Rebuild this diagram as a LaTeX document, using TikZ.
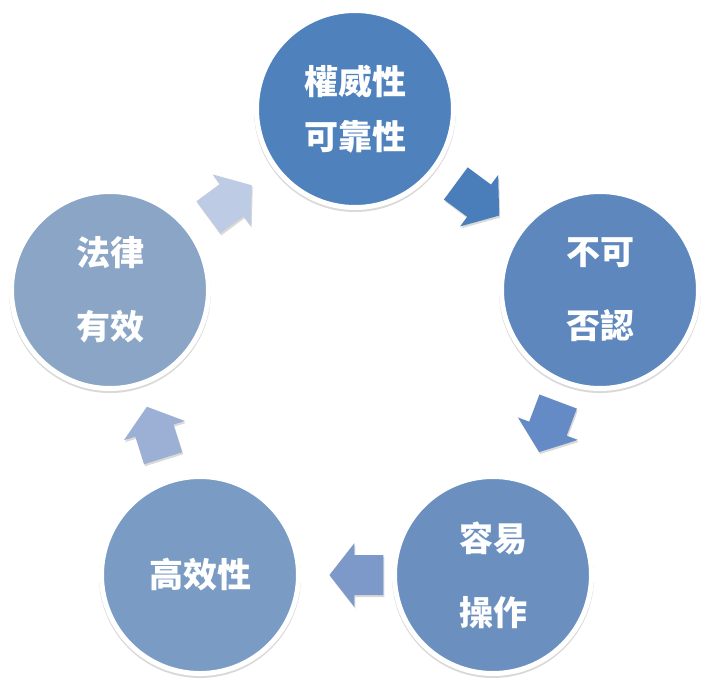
\documentclass[tikz,border=0pt]{standalone}
\usepackage{fontspec}
\newfontfamily\cjk{Noto Sans CJK TC}
\usetikzlibrary{calc,shadows}
\definecolor{c1}{RGB}{79,129,189}
\definecolor{c2}{RGB}{94,135,190}
\definecolor{c3}{RGB}{107,144,191}
\definecolor{c4}{RGB}{122,155,196}
\definecolor{c5}{RGB}{138,165,198}
\definecolor{a1}{RGB}{74,126,187}
\definecolor{a2}{RGB}{101,139,198}
\definecolor{a3}{RGB}{124,153,201}
\definecolor{a4}{RGB}{156,176,213}
\definecolor{a5}{RGB}{190,203,228}
\tikzset{
  bubble/.style={circle, minimum size=197pt, inner sep=0pt, draw=white, line width=5pt,
    text=white, font=\cjk\bfseries\fontsize{34}{55}\selectfont, align=center,
    drop shadow={shadow xshift=0pt, shadow yshift=-2pt, shadow scale=1.025, opacity=0.15, fill=black}},
  blockarrow/.pic={\fill[pic actions, drop shadow={shadow xshift=1pt, shadow yshift=-2pt, opacity=0.15, fill=black}]
    (27,0) -- (2,32) -- (2,20) -- (-27,20) -- (-27,-20) -- (2,-20) -- (2,-32) -- cycle;},
}
\begin{document}
\begin{tikzpicture}[x=1pt,y=-1pt]
\useasboundingbox[fill=white] (0,0) rectangle (713,686);
\node[bubble, fill=c1] (T)  at (355,109) {權威性\\可靠性};
\node[bubble, fill=c2] (R)  at (600,290) {不可\\[19pt]否認};
\node[bubble, fill=c3] (BR) at (493,575) {容易\\[19pt]操作};
\node[bubble, fill=c4] (BL) at (200,575) {高效性};
\node[bubble, fill=c5] (L)  at (110,290) {法律\\[19pt]有效};
\path let \p1=($(R)-(T)$), \n1={atan2(\y1,\x1)} in ($(T)!0.5!(R)$) pic[rotate=\n1, fill=a1] {blockarrow};
\path let \p1=($(BR)-(R)$), \n1={atan2(\y1,\x1)} in ($(R)!0.48!(BR)$) pic[rotate=\n1, fill=a2] {blockarrow};
\path let \p1=($(BL)-(BR)$), \n1={atan2(\y1,\x1)} in ($(BR)!0.466!(BL)$) pic[rotate=\n1, fill=a3] {blockarrow};
\path let \p1=($(L)-(BL)$), \n1={atan2(\y1,\x1)} in ($(BL)!0.5!(L)$) pic[rotate=\n1, fill=a4] {blockarrow};
\path let \p1=($(T)-(L)$), \n1={atan2(\y1,\x1)} in ($(L)!0.49!(T)$) pic[rotate=\n1, fill=a5] {blockarrow};
\end{tikzpicture}
\end{document}
